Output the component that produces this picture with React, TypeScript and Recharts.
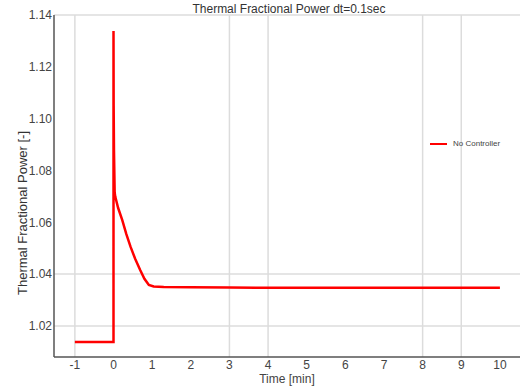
import { LineChart, Line, XAxis, YAxis, CartesianGrid, Legend, Label } from 'recharts';

// Time [min] and thermal fractional power
const time = [-1, 0, 0, 0.004, 0.012, 0.03, 0.045, 0.12, 0.225, 0.33, 0.44, 0.56, 0.69, 0.8, 0.915, 1.04, 1.3, 2, 3, 4, 6, 8, 10];
const power = [1.0138, 1.0138, 1.1338, 1.105, 1.088, 1.0715, 1.0699, 1.0655, 1.0609, 1.0555, 1.0506, 1.0459, 1.0416, 1.0382, 1.0358, 1.0352, 1.035, 1.0349, 1.0348, 1.0347, 1.0347, 1.0347, 1.0347];

const xTicks = [-1, 0, 1, 2, 3, 4, 5, 6, 7, 8, 9, 10];
const yTicks = [1.02, 1.04, 1.06, 1.08, 1.1, 1.12, 1.14];
const gridX = [-1, 3, 4, 8, 9];
const gridY = [1.02, 1.04, 1.14];

const data = time.map((t, i) => ({ t, p: power[i] }));

const FONT = 'Liberation Sans, Arial, sans-serif';

function renderLegend() {
  return (
    <div style={{ display: 'flex', alignItems: 'center', fontFamily: FONT, fontSize: 8, color: '#444' }}>
      <span style={{ display: 'inline-block', width: 17, height: 2, background: '#ff0000', marginRight: 6 }} />
      No Controller
    </div>
  );
}

export default function App() {
  return (
    <div style={{ position: 'absolute', left: 0, top: 0, width: 523, height: 390, background: '#fff' }}>
      <div
        style={{
          position: 'absolute',
          left: 0,
          width: 578,
          top: 2,
          textAlign: 'center',
          fontFamily: FONT,
          fontSize: 12,
          color: '#333',
        }}
      >
        Thermal Fractional Power dt=0.1sec
      </div>
      <LineChart width={523} height={390} data={data} margin={{ top: 15, right: 3, bottom: 0, left: 0 }}>
        <CartesianGrid
          stroke="#dcdcdc"
          strokeWidth={1.5}
          horizontalValues={gridY}
          verticalValues={gridX}
        />
        <XAxis
          dataKey="t"
          type="number"
          domain={[-1.54, 10.52]}
          ticks={xTicks}
          allowDataOverflow
          height={33}
          tickSize={0}
          tickMargin={3}
          stroke="#555"
          strokeWidth={1.5}
          tick={{ fill: '#444', fontSize: 12, fontFamily: FONT }}
        >
          <Label value="Time [min]" position="insideBottom" offset={7} fill="#444" fontSize={12} fontFamily={FONT} />
        </XAxis>
        <YAxis
          type="number"
          domain={[1.008, 1.14]}
          ticks={yTicks}
          allowDataOverflow
          width={54}
          tickSize={0}
          tickMargin={2}
          stroke="#555"
          strokeWidth={1.5}
          tickFormatter={(v: number) => v.toFixed(2)}
          tick={{ fill: '#444', fontSize: 12, fontFamily: FONT }}
        >
          <Label
            content={() => (
              <text
                transform="translate(22,213) rotate(-90)"
                textAnchor="middle"
                dominantBaseline="central"
                fill="#333"
                fontSize={13}
                fontFamily={FONT}
              >
                Thermal Fractional Power [-]
              </text>
            )}
          />
        </YAxis>
        <Legend
          content={renderLegend}
          layout="horizontal"
          verticalAlign="middle"
          align="center"
          wrapperStyle={{ left: 430, top: 139, width: 90 }}
        />
        <Line
          dataKey="p"
          type="linear"
          stroke="#ff0000"
          strokeWidth={2.5}
          dot={false}
          isAnimationActive={false}
          name="No Controller"
        />
      </LineChart>
    </div>
  );
}
